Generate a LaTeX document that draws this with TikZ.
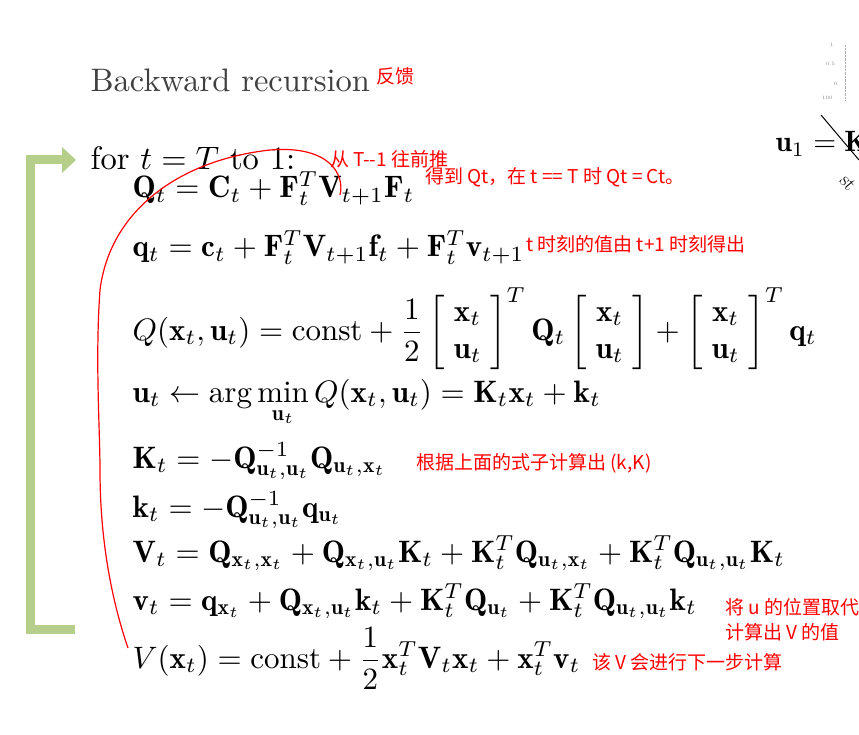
\documentclass[tikz,border=0pt]{standalone}
\usepackage{amsmath,amssymb,bm}
\usepackage{fontspec}
\newfontfamily\cjk{Noto Sans CJK SC}
\usetikzlibrary{arrows.meta}
\definecolor{lgreen}{RGB}{181,207,138}
\newcommand{\xuvec}{\left[\begin{array}{@{\;}c@{\;}}\mathbf{x}_t\\\mathbf{u}_t\end{array}\right]}
\begin{document}
\begin{tikzpicture}[x=1pt,y=-1pt,
 eq/.style={anchor=base west,inner sep=0pt,font=\normalsize,transform shape,scale=3.1},
 note/.style={anchor=base west,inner sep=0pt,text=red,font=\cjk\fontsize{19}{22}\selectfont}]
\useasboundingbox (0,0) rectangle (859,735);
\fill[white] (0,0) rectangle (859,735);
\node[eq,text=black!75,scale=1.05] (title) at (90,92) {Backward recursion};
\node[note] (n0) at (376,84) {反馈};
\node[eq,scale=1.05] (for) at (90,170) {for $t=T$ to 1:};
\node[note] (n1) at (330,167) {从 T--1 往前推};
\node[eq] (l1) at (132,198) {$\mathbf{Q}_t=\mathbf{C}_t+\mathbf{F}_t^T\mathbf{V}_{t+1}\mathbf{F}_t$};
\node[note] (n2) at (425,184) {得到 Qt，在 t == T 时 Qt = Ct。};
\node[eq] (l2) at (132,257) {$\mathbf{q}_t=\mathbf{c}_t+\mathbf{F}_t^T\mathbf{V}_{t+1}\mathbf{f}_t+\mathbf{F}_t^T\mathbf{v}_{t+1}$};
\node[note] (n3) at (526,252) {t 时刻的值由 t+1 时刻得出};
\node[eq] (l3) at (132,340) {$Q(\mathbf{x}_t,\mathbf{u}_t)=\text{const}+\dfrac12\xuvec^T\mathbf{Q}_t\xuvec+\xuvec^T\mathbf{q}_t$};
\node[eq] (l4) at (132,402) {$\mathbf{u}_t\leftarrow\arg\min\limits_{\mathbf{u}_t}Q(\mathbf{x}_t,\mathbf{u}_t)=\mathbf{K}_t\mathbf{x}_t+\mathbf{k}_t$};
\node[eq] (l5) at (132,468) {$\mathbf{K}_t=-\mathbf{Q}_{\mathbf{u}_t,\mathbf{u}_t}^{-1}\mathbf{Q}_{\mathbf{u}_t,\mathbf{x}_t}$};
\node[note] (n5) at (416,469) {根据上面的式子计算出 (k,K)};
\node[eq] (l6) at (132,517) {$\mathbf{k}_t=-\mathbf{Q}_{\mathbf{u}_t,\mathbf{u}_t}^{-1}\mathbf{q}_{\mathbf{u}_t}$};
\node[eq] (l7) at (132,562) {$\mathbf{V}_t=\mathbf{Q}_{\mathbf{x}_t,\mathbf{x}_t}+\mathbf{Q}_{\mathbf{x}_t,\mathbf{u}_t}\mathbf{K}_t+\mathbf{K}_t^T\mathbf{Q}_{\mathbf{u}_t,\mathbf{x}_t}+\mathbf{K}_t^T\mathbf{Q}_{\mathbf{u}_t,\mathbf{u}_t}\mathbf{K}_t$};
\node[eq] (l8) at (132,610) {$\mathbf{v}_t=\mathbf{q}_{\mathbf{x}_t}+\mathbf{Q}_{\mathbf{x}_t,\mathbf{u}_t}\mathbf{k}_t+\mathbf{K}_t^T\mathbf{Q}_{\mathbf{u}_t}+\mathbf{K}_t^T\mathbf{Q}_{\mathbf{u}_t,\mathbf{u}_t}\mathbf{k}_t$};
\node[note] (n8a) at (725,614) {将 u 的位置取代};
\node[note] (n8b) at (725,639) {计算出 V 的值};
\node[eq] (l9) at (132,668) {$V(\mathbf{x}_t)=\text{const}+\dfrac12\mathbf{x}_t^T\mathbf{V}_t\mathbf{x}_t+\mathbf{x}_t^T\mathbf{v}_t$};
\node[note] (n9) at (592,669) {该 V 会进行下一步计算};
% top-right fragment
\node[eq,scale=0.95] (u1) at (775,152) {$\mathbf{u}_1=\mathbf{K}$};
\node[anchor=west,inner sep=0pt,font=\tiny,text=gray] (g1) at (830,45) {1};
\node[anchor=west,inner sep=0pt,font=\tiny,text=gray] (g2) at (826,64) {0.5};
\node[anchor=west,inner sep=0pt,font=\tiny,text=gray] (g3) at (834,84) {0};
\node[anchor=west,inner sep=0pt,font=\tiny,text=gray] (g4) at (822,98) {100};
\draw[gray!60,densely dotted] (845,45) -- (845,100);
\draw[line width=1pt] (821,115) -- (859,160);
\node[rotate=-50,inner sep=0pt,font=\fontsize{20}{20}\selectfont] (st) at (848,183) {st};
% green bracket
\draw[line width=9pt,draw=lgreen,line join=miter]
 (64,160) -- (30,160) -- (30,629) -- (75,629);
\fill[lgreen] (62,147) -- (76,160) -- (62,173) -- cycle;
% red curve
\draw[red,line width=1.2pt] (340,195) .. controls (345,175) and (330,145) .. (270,150)
 .. controls (180,160) and (110,210) .. (100,290)
 .. controls (95,360) and (100,430) .. (100,470)
 .. controls (100,550) and (115,610) .. (128,648);
\end{tikzpicture}
\end{document}
